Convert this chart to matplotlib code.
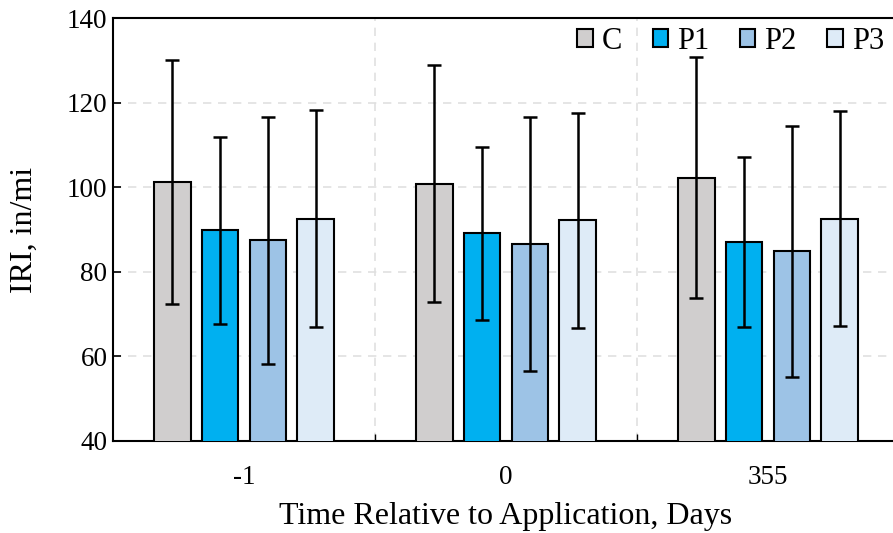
import matplotlib.pyplot as plt
import numpy as np

days = ['-1', '0', '355']
series = ['C', 'P1', 'P2', 'P3']
colors = ['#D0CECE', '#00B0F0', '#9DC3E6', '#DEEBF7']

C_mean = [101.2, 100.8, 102.2]
C_sd = [28.9, 28.0, 28.5]
P1_mean = [89.8, 89.1, 87.0]
P1_sd = [22.1, 20.4, 20.1]
P2_mean = [87.4, 86.6, 84.8]
P2_sd = [29.1, 30.0, 29.6]
P3_mean = [92.6, 92.2, 92.6]
P3_sd = [25.6, 25.4, 25.3]

means = [C_mean, P1_mean, P2_mean, P3_mean]
sds = [C_sd, P1_sd, P2_sd, P3_sd]

plt.rcParams['font.family'] = ['Liberation Serif', 'DejaVu Serif']

fig = plt.figure(figsize=(8.93, 5.33), dpi=100)
ax = fig.add_axes([113/893, 92/533, 786/893, 423/533])

x = np.arange(len(days))
step = 0.183
w = 0.141
for i, s in enumerate(series):
    ax.bar(x + (i - 1.5) * step, means[i], w, yerr=sds[i], color=colors[i],
           edgecolor='black', linewidth=1.5, label=s, zorder=3,
           error_kw=dict(ecolor='black', elinewidth=1.8, capsize=5, capthick=1.8, zorder=4))

ax.set_xlim(-0.5, 2.5)
ax.set_ylim(40, 140)
ax.set_yticks(np.arange(40, 141, 20))
ax.set_xticks(x)
ax.set_xticklabels(days)
ax.set_xticks([0.5, 1.5], minor=True)
ax.tick_params(axis='x', which='major', length=0, labelsize=19.5, pad=17)
ax.tick_params(axis='x', which='minor', direction='in', length=5, width=1)
ax.tick_params(axis='y', direction='in', length=6, width=1.2, labelsize=19.5, pad=4)

ax.grid(axis='y', which='major', linestyle=(0, (5, 4)), color='#E0E0E0', linewidth=1.2, zorder=0)
ax.grid(axis='x', which='minor', linestyle=(0, (5, 4)), color='#E0E0E0', linewidth=1.2, zorder=0)

for sp in ['left', 'bottom', 'top']:
    ax.spines[sp].set_linewidth(1.5)
    ax.spines[sp].set_color('black')
ax.spines['right'].set_visible(False)

ax.set_ylabel('IRI, in/mi', fontsize=23, labelpad=20)
ax.set_xlabel('Time Relative to Application, Days', fontsize=23, labelpad=9)

ax.legend(loc='upper right', bbox_to_anchor=(884/893, 1 - 27/533), bbox_transform=fig.transFigure,
          ncol=4, frameon=False, fontsize=22, handlelength=0.5, handleheight=0.5,
          handletextpad=0.3, columnspacing=1.0, borderaxespad=0, borderpad=0)

fig.savefig('out.png', dpi=100)
